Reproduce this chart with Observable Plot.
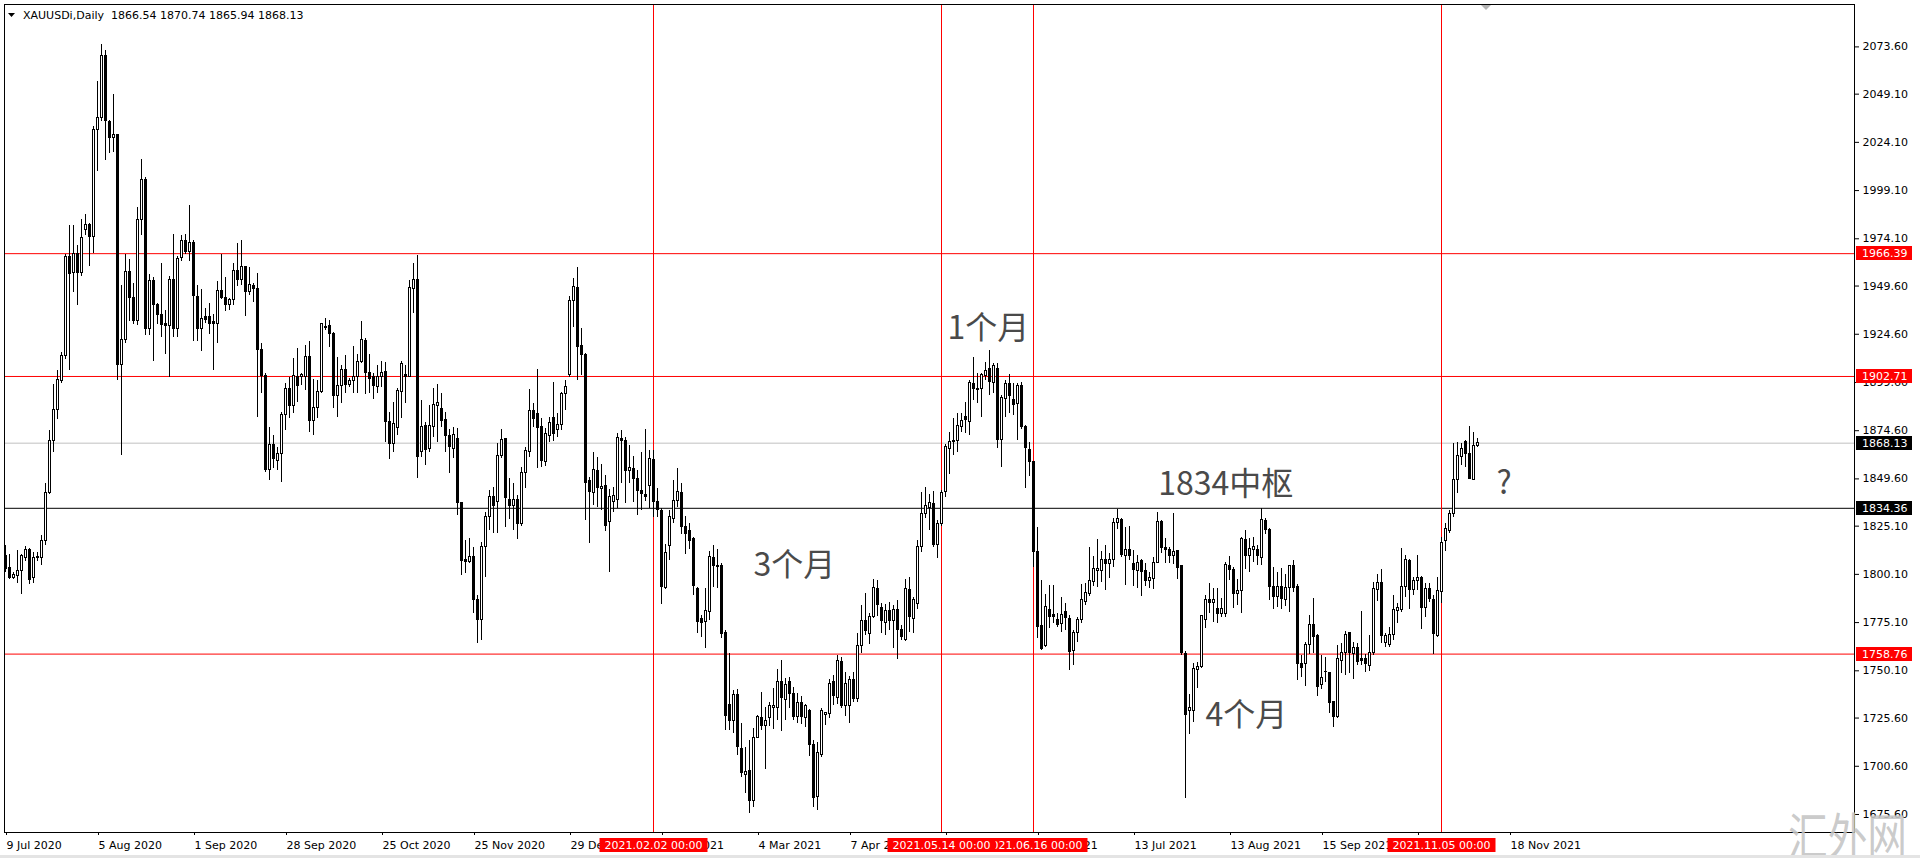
<!DOCTYPE html>
<html><head><meta charset="utf-8">
<script src="https://cdn.jsdelivr.net/npm/d3@7"></script>
<script src="https://cdn.jsdelivr.net/npm/@observablehq/plot@0.6"></script>
<style>html,body{margin:0;padding:0;background:#fff;overflow:hidden}svg{display:block}</style>
</head><body><div id="chart"></div><script>
// ---- chart data (XAUUSDi, Daily) ----
const symbol = "XAUUSDi,Daily";
const open = [
1809.7,1803.4,1798.3,1799.3,1802.1,1808.7,1812.5,1798.3,1809.1,1808.7,
1817.2,1842.3,1869.0,1885.1,1900.2,1913.3,1964.8,1956.2,1966.1,1956.2,
1978.4,1981.2,1975.0,2030.6,2036.5,2068.9,2034.4,2026.5,2028.0,1908.6,
1921.8,1957.1,1943.5,1931.6,1983.7,2004.8,1927.1,1952.4,1939.7,1934.5,
1929.8,1929.0,1952.9,1927.1,1964.3,1972.7,1967.1,1971.8,1944.0,1927.1,
1933.5,1933.5,1930.7,1930.1,1947.1,1943.5,1939.7,1942.6,1957.3,1952.9,
1959.5,1946.4,1949.4,1948.2,1916.5,1903.2,1854.0,1867.4,1859.1,1862.3,
1882.5,1896.3,1887.3,1902.4,1902.4,1902.4,1912.7,1879.5,1886.4,1894.9,
1928.6,1929.1,1924.8,1892.8,1898.0,1906.1,1898.5,1900.3,1902.4,1910.1,
1921.0,1904.4,1902.4,1897.5,1902.4,1904.9,1879.0,1867.8,1876.1,1894.6,
1903.7,1902.4,1948.2,1952.8,1863.5,1876.8,1865.2,1876.4,1887.3,1885.9,
1880.2,1872.1,1865.2,1870.4,1837.0,1807.3,1806.4,1809.0,1786.9,1776.5,
1814.2,1829.7,1840.4,1837.5,1861.7,1870.3,1838.7,1835.3,1838.7,1826.3,
1852.5,1863.4,1884.7,1883.3,1876.7,1858.3,1872.1,1881.2,1874.7,1877.3,
1893.7,1903.7,1941.7,1948.6,1918.7,1914.1,1848.4,1842.2,1853.9,1844.4,
1846.1,1827.1,1837.8,1838.7,1870.3,1869.5,1853.9,1854.8,1849.6,1843.2,
1841.5,1846.1,1859.5,1837.5,1832.8,1793.1,1815.0,1828.9,1838.0,1842.2,
1824.9,1822.5,1818.5,1792.6,1777.0,1775.3,1780.5,1808.6,1804.7,1804.7,
1769.6,1732.6,1724.0,1737.8,1709.6,1696.3,1698.4,1682.8,1715.3,1725.7,
1721.7,1725.7,1730.9,1730.9,1744.2,1735.0,1744.2,1738.2,1726.0,1733.3,
1725.7,1729.5,1711.4,1684.6,1706.2,1727.4,1727.8,1744.2,1736.1,1754.6,
1732.1,1732.1,1745.1,1735.6,1763.2,1775.8,1769.3,1778.2,1792.6,1782.7,
1774.8,1781.0,1775.8,1781.4,1771.3,1766.1,1792.1,1777.0,1784.8,1814.2,
1831.5,1834.6,1836.7,1815.1,1826.0,1842.7,1865.2,1868.9,1869.5,1876.4,
1881.9,1879.0,1898.9,1896.3,1896.3,1902.7,1906.7,1899.2,1906.7,1869.8,
1891.1,1898.6,1890.3,1888.5,1898.0,1876.4,1864.7,1858.3,1811.6,1773.1,
1763.2,1781.4,1778.8,1776.5,1774.5,1780.5,1777.0,1760.6,1769.6,1776.2,
1785.7,1790.0,1796.0,1801.8,1801.8,1807.3,1805.6,1807.3,1826.6,1828.4,
1809.4,1812.5,1805.6,1802.1,1806.9,1801.8,1796.6,1797.8,1805.9,1827.2,
1813.9,1812.8,1809.4,1812.1,1804.2,1759.0,1729.0,1729.5,1750.6,1752.3,
1776.5,1786.6,1785.2,1782.2,1779.3,1779.6,1804.7,1802.5,1790.0,1791.7,
1817.7,1809.4,1812.8,1812.8,1808.7,1828.0,1823.2,1793.8,1788.3,1793.5,
1786.6,1793.1,1804.2,1793.8,1753.4,1753.4,1763.7,1773.6,1767.9,1742.5,
1749.6,1748.9,1733.8,1726.1,1755.4,1759.3,1769.6,1758.9,1762.0,1756.3,
1756.3,1752.8,1759.3,1792.1,1795.5,1764.4,1763.7,1768.9,1781.0,1781.7,
1793.8,1807.0,1792.1,1796.6,1798.3,1782.7,1792.6,1786.9,1768.4,1791.0,
1817.6,1822.8,1831.5,1848.8,1860.9,1868.6,1862.3,1849.1,1866.54];
const high = [
1815.3,1810.6,1801.2,1812.5,1810.6,1814.8,1813.4,1811.5,1811.5,1820.0,
1847.4,1874.7,1898.3,1905.8,1915.2,1966.1,1981.2,1981.2,1970.8,1984.1,
1986.9,1982.2,2032.1,2055.7,2074.6,2071.7,2035.3,2049.1,2028.4,1950.1,
1966.1,1963.3,1951.1,1990.1,2015.2,2005.7,1955.8,1953.9,1940.7,1961.4,
1936.9,1954.8,1976.5,1964.8,1975.6,1976.5,1991.6,1973.1,1950.1,1947.8,
1937.9,1940.7,1935.0,1952.0,1966.1,1954.2,1943.0,1961.4,1971.8,1973.1,
1959.7,1959.4,1950.7,1955.9,1919.6,1904.1,1876.4,1872.1,1866.1,1884.2,
1898.9,1902.4,1911.9,1917.0,1904.4,1918.8,1921.0,1901.0,1900.6,1930.4,
1932.6,1931.7,1925.7,1912.7,1908.4,1913.6,1901.5,1918.3,1914.1,1931.4,
1922.2,1914.1,1904.1,1908.4,1910.6,1910.1,1884.2,1889.4,1896.3,1910.5,
1908.4,1952.5,1961.1,1965.4,1890.3,1879.0,1887.7,1896.3,1898.5,1893.7,
1884.2,1875.1,1876.4,1875.6,1837.5,1817.6,1818.5,1814.2,1789.1,1816.8,
1832.4,1843.6,1845.3,1868.1,1875.0,1870.3,1849.6,1847.0,1840.9,1855.3,
1865.7,1895.8,1888.8,1906.1,1880.7,1875.5,1881.6,1899.7,1883.3,1894.5,
1900.6,1944.1,1953.3,1959.4,1927.4,1914.4,1850.5,1863.4,1860.5,1857.0,
1851.3,1843.9,1845.3,1872.9,1874.7,1871.2,1866.9,1861.2,1853.9,1863.4,
1875.0,1864.3,1864.3,1844.4,1834.1,1815.6,1833.2,1848.7,1854.8,1847.0,
1830.1,1826.3,1819.0,1793.4,1778.7,1792.6,1812.1,1815.0,1812.8,1805.5,
1771.0,1759.2,1739.9,1740.2,1722.6,1710.5,1714.0,1720.0,1727.0,1739.0,
1731.2,1733.8,1740.7,1750.6,1755.4,1745.9,1746.8,1741.3,1738.2,1736.8,
1732.6,1729.9,1714.0,1713.1,1730.4,1728.6,1745.4,1747.6,1758.0,1757.1,
1749.4,1747.1,1749.4,1769.6,1784.0,1790.0,1780.0,1797.3,1796.9,1785.1,
1784.7,1785.7,1784.0,1786.6,1773.6,1797.3,1798.3,1788.3,1817.6,1842.7,
1845.0,1841.5,1843.2,1828.0,1843.6,1867.4,1873.8,1880.7,1883.3,1883.7,
1889.4,1900.6,1912.7,1904.1,1904.4,1910.1,1916.2,1909.3,1909.3,1892.8,
1900.6,1903.7,1898.9,1899.2,1899.8,1877.3,1868.6,1858.8,1824.6,1796.9,
1789.6,1794.3,1794.3,1779.6,1788.3,1785.2,1778.8,1771.0,1777.9,1794.8,
1795.2,1814.2,1809.4,1818.0,1812.1,1815.0,1810.7,1828.9,1833.5,1828.9,
1824.6,1824.9,1812.5,1809.9,1807.6,1805.6,1801.2,1809.0,1832.4,1828.0,
1818.5,1813.9,1831.8,1812.5,1804.7,1760.0,1738.0,1754.1,1754.6,1778.8,
1789.1,1795.5,1792.6,1792.6,1787.4,1806.4,1809.4,1803.5,1797.3,1819.4,
1822.9,1818.5,1819.4,1815.1,1834.1,1828.9,1823.7,1803.5,1801.2,1803.0,
1800.0,1804.7,1807.3,1794.8,1758.0,1764.9,1778.8,1787.4,1768.7,1758.0,
1757.2,1749.4,1734.3,1763.2,1764.1,1770.6,1770.1,1765.0,1764.4,1781.0,
1758.6,1768.4,1796.1,1800.0,1802.5,1769.5,1772.7,1789.1,1784.8,1813.3,
1809.9,1807.6,1798.6,1809.9,1799.0,1795.2,1795.2,1789.0,1798.3,1819.4,
1826.3,1833.2,1868.1,1868.6,1868.1,1869.5,1876.8,1873.8,1870.74];
const low = [
1801.2,1797.4,1797.4,1795.5,1789.9,1806.8,1794.6,1795.5,1806.8,1804.9,
1815.3,1841.7,1863.4,1880.3,1899.2,1911.5,1905.8,1946.3,1939.4,1954.8,
1975.6,1959.9,1966.7,2008.9,2035.0,2014.8,2018.4,2018.9,1900.7,1861.9,
1919.9,1931.3,1929.4,1929.0,1975.6,1924.1,1924.1,1910.5,1929.4,1922.8,
1914.3,1902.0,1922.8,1922.8,1962.4,1966.1,1962.4,1920.9,1920.9,1915.8,
1930.3,1924.7,1905.8,1919.6,1942.6,1936.5,1936.9,1939.7,1949.2,1950.1,
1934.0,1944.7,1941.2,1881.6,1893.7,1853.1,1848.8,1854.8,1854.0,1847.9,
1874.7,1880.7,1883.7,1889.4,1898.0,1895.4,1873.8,1872.1,1880.7,1893.7,
1926.5,1917.9,1885.9,1881.6,1888.5,1893.7,1897.2,1893.7,1894.1,1909.3,
1893.4,1893.7,1890.6,1893.7,1897.2,1868.6,1859.5,1863.5,1872.1,1880.7,
1888.5,1902.0,1935.2,1849.6,1860.9,1856.5,1863.5,1871.2,1868.6,1876.4,
1863.5,1852.2,1860.0,1830.6,1799.5,1800.4,1805.6,1779.6,1764.1,1765.8,
1798.6,1822.8,1821.1,1821.1,1860.0,1824.5,1828.3,1822.8,1818.0,1824.9,
1844.4,1860.8,1876.0,1854.8,1855.7,1856.0,1868.6,1869.1,1871.2,1874.7,
1885.0,1902.3,1928.2,1900.6,1903.2,1828.0,1816.2,1835.8,1834.9,1833.2,
1822.5,1801.2,1832.3,1834.1,1847.0,1836.6,1847.0,1837.5,1830.6,1833.2,
1838.0,1834.1,1829.7,1829.7,1784.4,1792.1,1807.3,1826.6,1834.6,1820.7,
1810.4,1812.8,1789.1,1769.2,1767.2,1761.5,1776.1,1793.4,1792.6,1766.6,
1719.1,1719.1,1717.4,1706.2,1695.0,1686.6,1676.0,1679.0,1714.8,1719.1,
1698.7,1721.2,1719.5,1724.3,1718.8,1724.3,1730.4,1724.3,1723.0,1722.3,
1720.5,1705.7,1679.0,1677.7,1705.3,1721.7,1725.2,1732.1,1732.6,1730.4,
1726.4,1723.0,1733.8,1733.8,1758.9,1768.4,1763.7,1777.0,1778.2,1769.3,
1768.4,1771.0,1761.5,1755.8,1765.8,1765.5,1770.1,1769.6,1781.7,1811.6,
1828.9,1822.8,1814.2,1808.2,1824.9,1839.8,1851.9,1861.7,1863.5,1873.8,
1873.0,1872.1,1890.3,1888.5,1881.6,1900.6,1892.8,1893.7,1865.2,1855.3,
1881.6,1883.3,1882.5,1869.5,1875.0,1844.5,1850.8,1803.5,1766.7,1760.6,
1762.3,1771.8,1774.5,1772.4,1770.1,1771.0,1750.3,1752.8,1765.0,1774.8,
1784.0,1788.6,1793.8,1793.4,1796.0,1791.7,1797.8,1803.8,1823.2,1809.0,
1794.3,1807.3,1793.8,1792.6,1788.6,1793.8,1792.6,1792.1,1805.6,1811.1,
1805.6,1805.6,1805.2,1797.3,1758.0,1684.0,1717.0,1723.5,1740.8,1751.1,
1771.9,1779.6,1775.3,1774.5,1777.9,1777.6,1796.9,1782.2,1783.9,1779.6,
1802.5,1801.2,1806.4,1804.7,1804.7,1820.8,1786.6,1781.7,1782.8,1781.7,
1783.4,1780.5,1790.9,1745.1,1746.5,1742.0,1758.6,1758.9,1736.8,1740.2,
1744.2,1728.1,1720.9,1725.2,1748.5,1747.7,1748.5,1745.4,1752.8,1752.8,
1749.4,1749.9,1758.0,1786.2,1764.1,1762.3,1762.4,1765.8,1774.8,1780.5,
1788.3,1781.7,1789.2,1791.7,1771.4,1777.9,1785.7,1758.6,1767.5,1784.8,
1812.1,1821.1,1829.7,1841.9,1856.5,1855.7,1849.1,1848.8,1865.94];
const close = [
1803.0,1798.3,1799.8,1802.1,1809.7,1812.5,1797.4,1808.7,1808.4,1817.2,
1842.3,1869.0,1885.1,1900.7,1913.3,1964.8,1955.8,1966.1,1956.2,1974.6,
1981.2,1975.0,2030.6,2036.5,2068.9,2035.0,2026.3,2028.0,1908.6,1921.8,
1957.1,1943.5,1931.6,1983.7,2004.8,1927.1,1952.4,1939.7,1934.5,1929.4,
1929.0,1952.9,1927.1,1963.7,1972.7,1967.1,1971.8,1944.5,1927.1,1932.6,
1932.2,1929.8,1930.1,1947.1,1943.5,1939.7,1942.6,1957.3,1952.9,1959.5,
1946.3,1949.9,1948.2,1916.5,1903.2,1854.0,1867.4,1860.0,1862.3,1882.5,
1896.3,1887.3,1902.7,1898.0,1903.7,1912.7,1879.5,1886.4,1894.9,1929.7,
1927.9,1924.8,1892.8,1898.0,1906.1,1898.5,1900.6,1902.4,1910.1,1921.4,
1904.4,1901.5,1898.0,1902.4,1904.4,1879.0,1867.8,1878.2,1895.4,1909.3,
1902.4,1948.7,1952.5,1861.2,1876.4,1864.7,1876.8,1887.7,1888.9,1879.5,
1872.1,1866.1,1872.6,1837.0,1806.9,1806.4,1809.0,1786.9,1776.5,1814.2,
1830.1,1840.1,1835.8,1861.7,1869.8,1839.8,1835.8,1838.7,1826.3,1852.5,
1864.3,1884.7,1880.7,1876.0,1859.1,1872.9,1878.5,1872.9,1877.8,1893.7,
1897.5,1942.1,1949.3,1918.2,1913.6,1847.4,1842.7,1854.3,1844.9,1845.6,
1825.4,1840.4,1840.9,1870.9,1869.1,1853.6,1855.3,1849.6,1843.2,1841.8,
1840.4,1860.0,1837.5,1833.5,1793.4,1811.1,1830.1,1838.4,1842.7,1824.5,
1821.1,1817.6,1794.3,1775.3,1774.8,1781.0,1809.3,1804.7,1803.8,1769.2,
1726.9,1724.0,1737.8,1710.8,1697.0,1697.5,1682.8,1715.3,1726.4,1721.7,
1724.0,1731.6,1731.6,1744.2,1736.1,1742.5,1738.2,1726.4,1733.3,1726.4,
1731.6,1711.4,1684.2,1707.4,1729.5,1728.1,1743.0,1736.8,1755.4,1732.1,
1743.0,1745.1,1735.6,1763.2,1775.8,1770.6,1778.2,1793.1,1784.0,1775.8,
1781.0,1775.8,1781.4,1771.0,1767.5,1792.6,1777.9,1786.6,1814.5,1831.5,
1835.3,1837.0,1815.1,1826.0,1842.2,1866.4,1868.6,1869.2,1876.8,1879.5,
1879.9,1899.2,1896.3,1895.8,1903.7,1905.5,1899.8,1907.9,1869.8,1891.6,
1898.6,1892.8,1887.7,1898.0,1876.4,1865.7,1858.3,1811.6,1772.7,1761.5,
1783.1,1777.9,1778.2,1774.1,1778.8,1777.6,1759.8,1769.6,1776.2,1786.9,
1790.3,1796.9,1803.0,1803.0,1807.6,1805.6,1807.3,1826.6,1828.9,1810.4,
1812.5,1809.4,1802.5,1805.9,1801.2,1796.6,1798.3,1805.9,1827.2,1813.9,
1812.5,1809.4,1811.6,1803.5,1759.2,1727.0,1731.0,1751.1,1752.3,1778.3,
1786.6,1785.2,1786.9,1779.3,1782.2,1805.2,1802.5,1790.0,1791.7,1818.5,
1809.4,1813.3,1814.2,1809.4,1828.4,1822.9,1793.5,1788.3,1793.8,1787.4,
1793.1,1804.2,1793.1,1753.4,1751.7,1763.7,1774.1,1767.5,1741.6,1746.5,
1749.4,1733.3,1726.1,1756.3,1759.3,1768.9,1759.3,1762.0,1754.6,1755.4,
1753.7,1759.3,1792.6,1795.5,1768.4,1768.4,1768.9,1781.7,1782.7,1793.8,
1807.3,1792.1,1796.6,1798.3,1782.7,1792.6,1787.4,1769.3,1791.4,1816.3,
1823.7,1831.5,1848.8,1861.7,1865.2,1862.3,1849.6,1866.9,1868.13];

// price scale ticks shown on the right axis
const yTicks = [2073.6,2049.1,2024.1,1999.1,1974.1,1949.6,1924.6,1899.6,1874.6,1849.6,1825.1,1800.1,1775.1,1750.1,1725.6,1700.6,1675.6];
// time axis: bar index of each label and its text
const xTickIndex = [0,23,47,70,94,117,141,164,188,211,235,258,282,306,329,353,376];
const xTickLabel = ["9 Jul 2020","5 Aug 2020","1 Sep 2020","28 Sep 2020","25 Oct 2020","25 Nov 2020","29 Dec 2020","1 Feb 2021","4 Mar 2021","7 Apr 2021","6 May 2021","8 Jun 2021","13 Jul 2021","13 Aug 2021","15 Sep 2021","18 Oct 2021","18 Nov 2021"];
// horizontal levels
const redLevels = [1966.39, 1902.71, 1758.76];
const pivotLevel = 1834.36;
// vertical markers (bar index, label) in drawing order
const markerIndex = [162, 257, 234, 359];
const markerLabel = ["2021.02.02 00:00", "2021.06.16 00:00", "2021.05.14 00:00", "2021.11.05 00:00"];
// text annotations (bar index, price)
const noteText = ["1个月", "3个月", "1834中枢", "4个月", "?"];
const noteIndex = [235.5, 187, 288.2, 300, 372.75];
const notePrice = [1921.9, 1799.5, 1841.5, 1721.7, 1842.0];
// view
const barDomain = [-0.25, 462.25];
const priceDomain = [1666.26, 2095.58];

// ---- build ----
const n = Math.min(open.length, high.length, low.length, close.length);
const candles = d3.range(n).map(i => ({i, open: open[i], high: high[i], low: low[i], close: close[i]}));
const bid = close[n - 1];
const notes = noteText.map((t, k) => ({t, i: noteIndex[k], p: notePrice[k]}));
const markers = markerIndex.map((i, k) => ({i, label: markerLabel[k]}));
const xLabelMap = new Map(xTickIndex.map((d, k) => [d, xTickLabel[k]]));
const priceTags = [
  ...redLevels.map(v => ({v, color: "#ff0000"})),
  {v: bid, color: "#000000"},
  {v: pivotLevel, color: "#000000"}
];
const FONT = "DejaVu Sans";

function decorations(index, scales, values, dims) {
  const {width, height, marginLeft, marginRight, marginTop, marginBottom} = dims;
  const right = width - marginRight, bottom = height - marginBottom;
  const g = d3.create("svg:g").attr("font-family", FONT).attr("font-size", 11).attr("text-anchor", "start");
  // right price tags
  for (const t of priceTags) {
    const y = Math.round(scales.y(t.v));
    g.append("rect").attr("x", right + 2).attr("y", y - 7).attr("width", 56).attr("height", 14).attr("fill", t.color);
    g.append("text").attr("x", right + 8).attr("y", y).attr("dy", "0.36em").attr("fill", "#fff").text(t.v.toFixed(2));
  }
  // bottom date tags
  for (const m of markers) {
    const x = Math.round(scales.x(m.i)) + 0.5;
    g.append("rect").attr("x", x - 54).attr("y", bottom + 6).attr("width", 108).attr("height", 14).attr("fill", "#ff0000");
    g.append("text").attr("x", x).attr("y", bottom + 16.5).attr("text-anchor", "middle").attr("fill", "#fff").text(m.label);
  }
  // header
  g.append("path").attr("d", `M${marginLeft + 4},${marginTop + 9}h7l-3.5,4z`).attr("fill", "#000");
  g.append("text").attr("x", marginLeft + 19).attr("y", marginTop + 15).attr("fill", "#000")
    .style("white-space", "pre")
    .text(`${symbol}  ${[open[n-1], high[n-1], low[n-1], close[n-1]].map(v => v.toFixed(2)).join(" ")}`);
  // chart shift marker
  const sx = scales.x(n + 1.25);
  g.append("path").attr("d", `M${sx - 5},${marginTop + 1}h10l-5,5z`).attr("fill", "#b4b4b4");
  // watermark
  g.append("text").attr("x", right - 66).attr("y", height - 3)
    .attr("font-family", "Noto Sans CJK SC").attr("font-size", 50)
    .style("font-family", "'Noto Sans CJK SC'").style("font-size", "50px")
    .attr("textLength", 119).attr("lengthAdjust", "spacingAndGlyphs")
    .attr("fill", "#c4c4c4").attr("fill-opacity", 0.9)
    .text("汇外网");
  // bottom window strip
  g.append("rect").attr("x", 0).attr("y", height - 3).attr("width", width).attr("height", 3).attr("fill", "#e4e4e4");
  return g.node();
}

const chart = Plot.plot({
  width: 1920, height: 858,
  marginLeft: 4, marginRight: 66, marginTop: 4, marginBottom: 26,
  style: {fontFamily: FONT, fontSize: "11px", background: "#fff", color: "#000"},
  x: {domain: barDomain, label: null},
  y: {domain: priceDomain, label: null},
  marks: [
    Plot.ruleY(redLevels, {stroke: "#ff0000"}),
    Plot.ruleY([pivotLevel], {stroke: "#000"}),
    Plot.ruleY([bid], {stroke: "#c0c0c0"}),
    Plot.ruleX(markerIndex, {stroke: "#ff0000"}),
    Plot.ruleX(candles, {x: "i", y1: "low", y2: "high", stroke: "#000", shapeRendering: "crispEdges"}),
    Plot.rect(candles, {
      x1: d => d.i - 0.25, x2: d => d.i + 0.25,
      y1: "open", y2: "close",
      fill: d => d.close >= d.open ? "#fff" : "#000",
      stroke: "#000", shapeRendering: "crispEdges"
    }),
    Plot.text(notes, {x: "i", y: "p", text: "t", textAnchor: "start", lineAnchor: "bottom",
      fontSize: 32, fontFamily: "Noto Sans CJK SC", fill: "#4a4a4a"}),
    Plot.frame({stroke: "#000"}),
    Plot.axisY({anchor: "right", ticks: yTicks, tickFormat: d => d.toFixed(2), tickSize: 4, tickPadding: 4, fontSize: 11, label: null}),
    Plot.axisX({anchor: "bottom", ticks: xTickIndex, tickFormat: d => xLabelMap.get(d), tickSize: 3, tickPadding: 6, textAnchor: "start", dx: 1, fontSize: 11, label: null}),
    decorations
  ]
});
document.getElementById("chart").appendChild(chart);
</script></body></html>
